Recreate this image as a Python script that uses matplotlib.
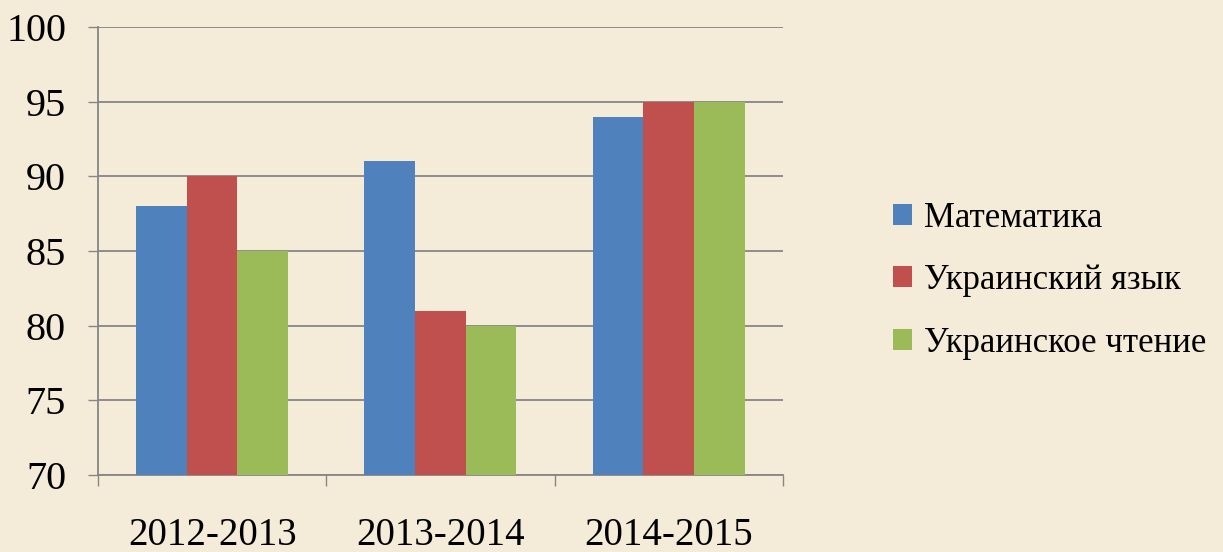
import matplotlib
matplotlib.use("Agg")
import matplotlib.pyplot as plt
import numpy as np
from matplotlib.ticker import FixedLocator

plt.rcParams["font.family"] = ["Liberation Serif", "DejaVu Serif"]

# ── data ───────────────────────────────────────────────────────────────────────
YEARS = ["2012-2013", "2013-2014", "2014-2015"]
SUBJECTS = ["Математика", "Украинский язык", "Украинское чтение"]
MATH = [88, 91, 94]
UKR_LANG = [90, 81, 95]
UKR_READ = [85, 80, 95]
COLORS = ["#4F81BD", "#C0504D", "#9BBB59"]

BG = "#f4ecd8"
GRID = "#868686"

fig = plt.figure(figsize=(12.23, 5.52), dpi=100, facecolor=BG)
ax = fig.add_axes([0.0801, 0.1395, 0.5601, 0.8116])
ax.set_facecolor("none")

x = np.arange(len(YEARS))
w = 0.222
for i, (vals, lab) in enumerate(zip([MATH, UKR_LANG, UKR_READ], SUBJECTS)):
    ax.bar(x + (i - 1) * w, np.array(vals) - 70, bottom=70, width=w,
           color=COLORS[i], label=lab, zorder=3)

ax.set_xlim(-0.5, 2.5)
ax.set_ylim(70, 100)
ax.set_yticks(range(70, 101, 5))
ax.yaxis.grid(True, color=GRID, linewidth=1.3, zorder=0)
ax.tick_params(axis="y", labelsize=29, length=7, width=1, color=GRID, pad=16)

ax.set_xticks(x)
ax.set_xticklabels(YEARS)
ax.xaxis.set_minor_locator(FixedLocator([-0.5, 0.5, 1.5, 2.5]))
ax.tick_params(axis="x", which="major", length=0, labelsize=28, pad=30)
ax.tick_params(axis="x", which="minor", length=8, width=1, color=GRID)

for s in ["top", "right"]:
    ax.spines[s].set_visible(False)
for s in ["left", "bottom"]:
    ax.spines[s].set_color(GRID)
    ax.spines[s].set_linewidth(1.3)

fig.legend(loc="upper left", bbox_to_anchor=(0.719, 0.66), frameon=False,
           fontsize=25, handlelength=0.55, handleheight=0.55, handletextpad=0.35,
           labelspacing=0.85, borderaxespad=0)

fig.savefig("out.png", dpi=100, facecolor=BG)
